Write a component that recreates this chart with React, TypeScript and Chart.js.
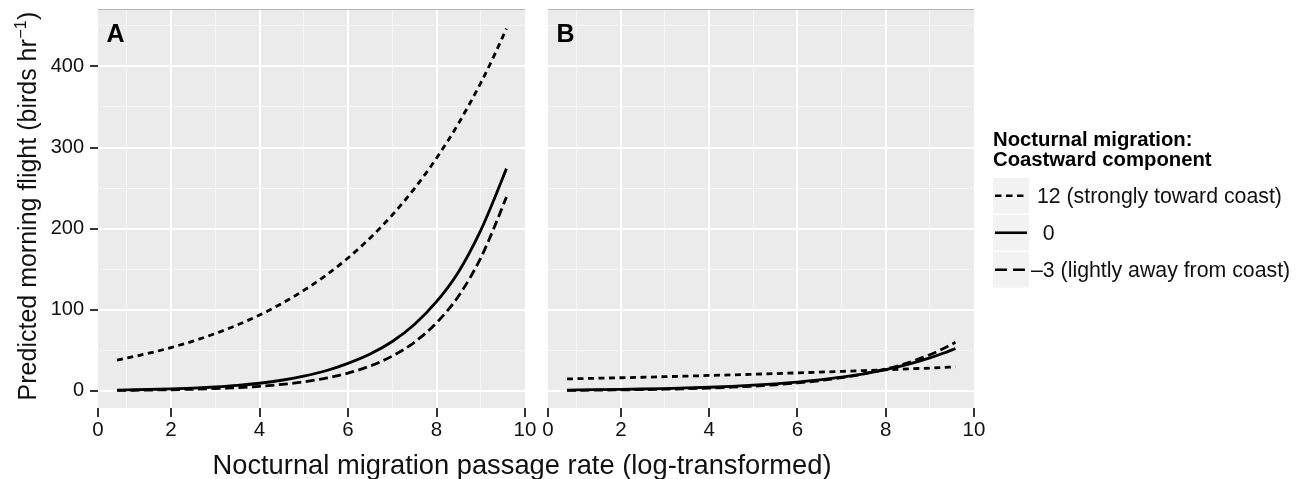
import React, { useEffect, useRef } from 'react';
import { Chart, registerables } from 'chart.js';

Chart.register(...registerables);

const FONT = '"Liberation Sans", Arial, Helvetica, sans-serif';

// ---------- data ----------
const X_VALUES = [0.78, 1.5, 2, 2.5, 3, 3.5, 4, 4.5, 5, 5.5, 6, 6.5, 7, 7.5, 8, 8.5, 9, 9.3, 9.58];

// Panel A
const A_TOWARD = [38, 46.5, 53.5, 61.5, 70.8, 81.4, 93.6, 107.7, 123.9, 142.5, 163.9, 188.5, 216.9, 249.4, 286.9, 330, 379.7, 412.9, 446.5];
const A_ZERO = [1.1, 1.8, 2.5, 3.5, 4.9, 6.8, 9.5, 13.2, 18.3, 24.9, 34, 45.5, 61, 82, 110, 147, 198, 236, 274];
const A_AWAY = [0.67, 1.08, 1.5, 2.1, 2.95, 4.1, 5.76, 8.05, 11.3, 15.7, 22, 30.8, 43, 60, 84, 117, 164, 201, 239];

// Panel B
const B_TOWARD = [14.8, 15.7, 16.3, 16.9, 17.6, 18.3, 19.1, 19.8, 20.6, 21.4, 22.3, 23.2, 24.1, 25.1, 26.1, 27.2, 28.2, 28.9, 29.6];
const B_ZERO = [1.13, 1.54, 1.92, 2.39, 2.97, 3.7, 4.6, 5.72, 7.1, 8.84, 11, 13.7, 17, 21.2, 26.3, 32.7, 40.7, 46.4, 52.4];
const B_AWAY = [0.71, 1.02, 1.31, 1.69, 2.17, 2.79, 3.6, 4.63, 5.95, 7.66, 9.85, 12.7, 16.3, 21, 27, 34.7, 44.7, 52, 59.9];

const SERIES_LABELS = [' 12 (strongly toward coast)', '  0', '\u20133 (lightly away from coast)'];
const LEGEND_TITLE = ['Nocturnal migration:', 'Coastward component'];
const PANEL_LABELS = ['A', 'B'];
const X_TITLE = 'Nocturnal migration passage rate (log-transformed)';
const Y_TITLE = 'Predicted morning flight (birds hr';
const Y_TITLE_SUP = '\u22121';
const Y_TITLE_END = ')';

const X_MIN = 0.35;
const X_MAX = 10;
const X_TICK_VALUES = [X_MIN, 2, 4, 6, 8, 10];
const X_TICK_LABELS = ['0', '2', '4', '6', '8', '10'];
const X_MINOR_VALUES = [1, 3, 5, 7, 9];

const Y_MIN = -21;
const Y_MAX = 469.5;
const Y_TICK_VALUES = [0, 100, 200, 300, 400];
const Y_TICK_LABELS = ['0', '100', '200', '300', '400'];
const Y_MINOR_VALUES = [50, 150, 250, 350, 450];

// ---------- styles ----------
const SERIES_DASH = [[6, 4.5], [], [9, 4.5]];
const LEGEND_DASH = [[6.5, 4.5], [], [12, 6]];
const LINE_WIDTH = 2.8;
const PANEL_BG = '#ebebeb';
const TEXT_COLOR = '#111111';
const TICK_COLOR = '#333333';

function seriesFor(panel: number) {
  return panel === 0 ? [A_TOWARD, A_ZERO, A_AWAY] : [B_TOWARD, B_ZERO, B_AWAY];
}

const panelBackground = {
  id: 'panelBackground',
  beforeDraw(chart: any) {
    const { ctx, chartArea: a } = chart;
    ctx.save();
    ctx.fillStyle = PANEL_BG;
    ctx.fillRect(a.left, a.top, a.right - a.left, a.bottom - a.top);
    ctx.strokeStyle = '#b5b5b5';
    ctx.lineWidth = 1;
    ctx.beginPath();
    ctx.moveTo(a.left, a.top - 0.5);
    ctx.lineTo(a.right, a.top - 0.5);
    ctx.stroke();
    ctx.restore();
  },
};

function panelLabelPlugin(panel: number) {
  return {
    id: 'panelLabel' + panel,
    afterDraw(chart: any) {
      const { ctx, chartArea: a } = chart;
      ctx.save();
      ctx.fillStyle = '#000';
      ctx.font = `bold 25px ${FONT}`;
      ctx.textBaseline = 'alphabetic';
      ctx.textAlign = 'left';
      ctx.fillText(PANEL_LABELS[panel], a.left + 8.5, a.top + 31.5);
      ctx.restore();
    },
  };
}

const titlesPlugin = {
  id: 'titles',
  afterDraw(chart: any) {
    const { ctx, chartArea: a } = chart;
    ctx.save();
    ctx.fillStyle = TEXT_COLOR;
    // x title
    ctx.font = `27.3px ${FONT}`;
    ctx.textAlign = 'center';
    ctx.textBaseline = 'alphabetic';
    ctx.fillText(X_TITLE, 522, 474);
    // y title (rotated) with superscript
    const mainSize = 25;
    const supSize = 16;
    ctx.font = `${mainSize}px ${FONT}`;
    const w1 = ctx.measureText(Y_TITLE).width;
    const w3 = ctx.measureText(Y_TITLE_END).width;
    ctx.font = `${supSize}px ${FONT}`;
    const w2 = ctx.measureText(Y_TITLE_SUP).width;
    const total = w1 + w2 + w3 + 1;
    const cy = (a.top + a.bottom) / 2 - 3;
    ctx.translate(36, cy);
    ctx.rotate(-Math.PI / 2);
    ctx.textAlign = 'left';
    let x = -total / 2;
    ctx.font = `${mainSize}px ${FONT}`;
    ctx.fillText(Y_TITLE, x, 0);
    x += w1 + 0.5;
    ctx.font = `${supSize}px ${FONT}`;
    ctx.fillText(Y_TITLE_SUP, x, -10);
    x += w2 + 0.5;
    ctx.font = `${mainSize}px ${FONT}`;
    ctx.fillText(Y_TITLE_END, x, 0);
    ctx.restore();
  },
};

const legendPlugin = {
  id: 'customLegend',
  afterDraw(chart: any) {
    const { ctx } = chart;
    const left = 993;
    ctx.save();
    ctx.fillStyle = '#000';
    ctx.font = `bold 20.3px ${FONT}`;
    ctx.textAlign = 'left';
    ctx.textBaseline = 'alphabetic';
    ctx.fillText(LEGEND_TITLE[0], left, 146);
    ctx.fillText(LEGEND_TITLE[1], left, 165.5);
    const rowTop = 178;
    const rowH = 37;
    const keyW = 36;
    SERIES_LABELS.forEach((label, i) => {
      const top = rowTop + i * rowH;
      ctx.fillStyle = '#f2f2f2';
      ctx.fillRect(left, top, keyW, rowH - 1.5);
      const cy = top + (rowH - 1.5) / 2;
      ctx.strokeStyle = '#000';
      ctx.lineWidth = 2.6;
      ctx.setLineDash(LEGEND_DASH[i]);
      ctx.beginPath();
      ctx.moveTo(left + 2, cy);
      ctx.lineTo(left + keyW - 2, cy);
      ctx.stroke();
      ctx.setLineDash([]);
      ctx.fillStyle = TEXT_COLOR;
      ctx.font = `21.3px ${FONT}`;
      ctx.textBaseline = 'middle';
      ctx.fillText(label, 1031, cy + 1);
    });
    ctx.restore();
  },
};

function buildOptions(panel: number): any {
  const isA = panel === 0;
  return {
    responsive: false,
    animation: false,
    devicePixelRatio: 1,
    layout: { padding: { top: 10, left: 0, bottom: 0, right: isA ? 1301 - 525 : 1301 - 974 } },
    plugins: { legend: { display: false }, tooltip: { enabled: false } },
    scales: {
      x: {
        type: 'linear',
        min: X_MIN,
        max: X_MAX,
        afterBuildTicks: (s: any) => {
          const vals = [...X_TICK_VALUES, ...X_MINOR_VALUES].sort((p, q) => p - q);
          s.ticks = vals.map((v) => ({ value: v }));
        },
        afterFit: (s: any) => {
          s.height = 71;
          s.paddingLeft = 0;
          s.paddingRight = 0;
          s.paddingTop = 0;
          s.paddingBottom = 0;
        },
        border: { display: false },
        ticks: {
          autoSkip: false,
          maxRotation: 0,
          minRotation: 0,
          padding: 1,
          color: TEXT_COLOR,
          font: { family: FONT, size: 20.5 },
          callback: (v: number) => {
            const i = X_TICK_VALUES.indexOf(v);
            return i >= 0 ? X_TICK_LABELS[i] : '';
          },
        },
        grid: {
          drawTicks: true,
          tickLength: 9,
          tickWidth: 2,
          tickColor: (c: any) => (X_TICK_VALUES.indexOf(c.tick?.value) >= 0 ? TICK_COLOR : 'rgba(0,0,0,0)'),
          color: (c: any) => {
            const v = c.tick?.value;
            if (v === X_MIN || v === X_MAX) return 'rgba(0,0,0,0)';
            return X_MINOR_VALUES.indexOf(v) >= 0 ? '#f5f5f5' : '#ffffff';
          },
          lineWidth: (c: any) => (X_MINOR_VALUES.indexOf(c.tick?.value) >= 0 ? 1 : 2),
        },
      },
      y: {
        type: 'linear',
        min: Y_MIN,
        max: Y_MAX,
        afterBuildTicks: (s: any) => {
          const vals = [...Y_TICK_VALUES, ...Y_MINOR_VALUES].sort((p, q) => p - q);
          s.ticks = vals.map((v) => ({ value: v }));
        },
        afterFit: (s: any) => {
          s.width = isA ? 98 : 548;
          s.paddingLeft = 0;
          s.paddingRight = 0;
          s.paddingTop = 0;
          s.paddingBottom = 0;
        },
        border: { display: false },
        ticks: {
          autoSkip: false,
          padding: 6,
          color: TEXT_COLOR,
          font: { family: FONT, size: 20 },
          callback: (v: number) => {
            if (!isA) return '';
            const i = Y_TICK_VALUES.indexOf(v);
            return i >= 0 ? Y_TICK_LABELS[i] : '';
          },
        },
        grid: {
          drawTicks: true,
          tickLength: 8,
          tickWidth: 2,
          tickColor: (c: any) =>
            isA && Y_TICK_VALUES.indexOf(c.tick?.value) >= 0 ? TICK_COLOR : 'rgba(0,0,0,0)',
          color: (c: any) => (Y_MINOR_VALUES.indexOf(c.tick?.value) >= 0 ? '#f5f5f5' : '#ffffff'),
          lineWidth: (c: any) => (Y_MINOR_VALUES.indexOf(c.tick?.value) >= 0 ? 1 : 2),
        },
      },
    },
  };
}

function buildData(panel: number): any {
  const series = seriesFor(panel);
  return {
    datasets: series.map((vals, i) => ({
      label: SERIES_LABELS[i].trim(),
      data: X_VALUES.map((x, j) => ({ x, y: vals[j] })),
      borderColor: '#000',
      backgroundColor: '#000',
      borderWidth: LINE_WIDTH,
      borderDash: SERIES_DASH[i],
      pointRadius: 0,
      fill: false,
      cubicInterpolationMode: 'monotone',
    })),
  };
}

export default function App() {
  const refA = useRef<HTMLCanvasElement | null>(null);
  const refB = useRef<HTMLCanvasElement | null>(null);

  useEffect(() => {
    document.body.style.margin = '0';
    const charts: Chart[] = [];
    if (refA.current) {
      charts.push(
        new Chart(refA.current, {
          type: 'line',
          data: buildData(0),
          options: buildOptions(0),
          plugins: [panelBackground, panelLabelPlugin(0), titlesPlugin],
        } as any)
      );
    }
    if (refB.current) {
      charts.push(
        new Chart(refB.current, {
          type: 'line',
          data: buildData(1),
          options: buildOptions(1),
          plugins: [panelBackground, panelLabelPlugin(1), legendPlugin],
        } as any)
      );
    }
    return () => charts.forEach((c) => c.destroy());
  }, []);

  const style: React.CSSProperties = {
    position: 'absolute',
    left: 0,
    top: 0,
    width: '1301px',
    height: '479px',
  };

  return (
    <div style={{ position: 'relative', width: '1301px', height: '479px', overflow: 'hidden', background: '#fff' }}>
      <canvas ref={refA} width={1301} height={479} style={style} />
      <canvas ref={refB} width={1301} height={479} style={style} />
    </div>
  );
}
